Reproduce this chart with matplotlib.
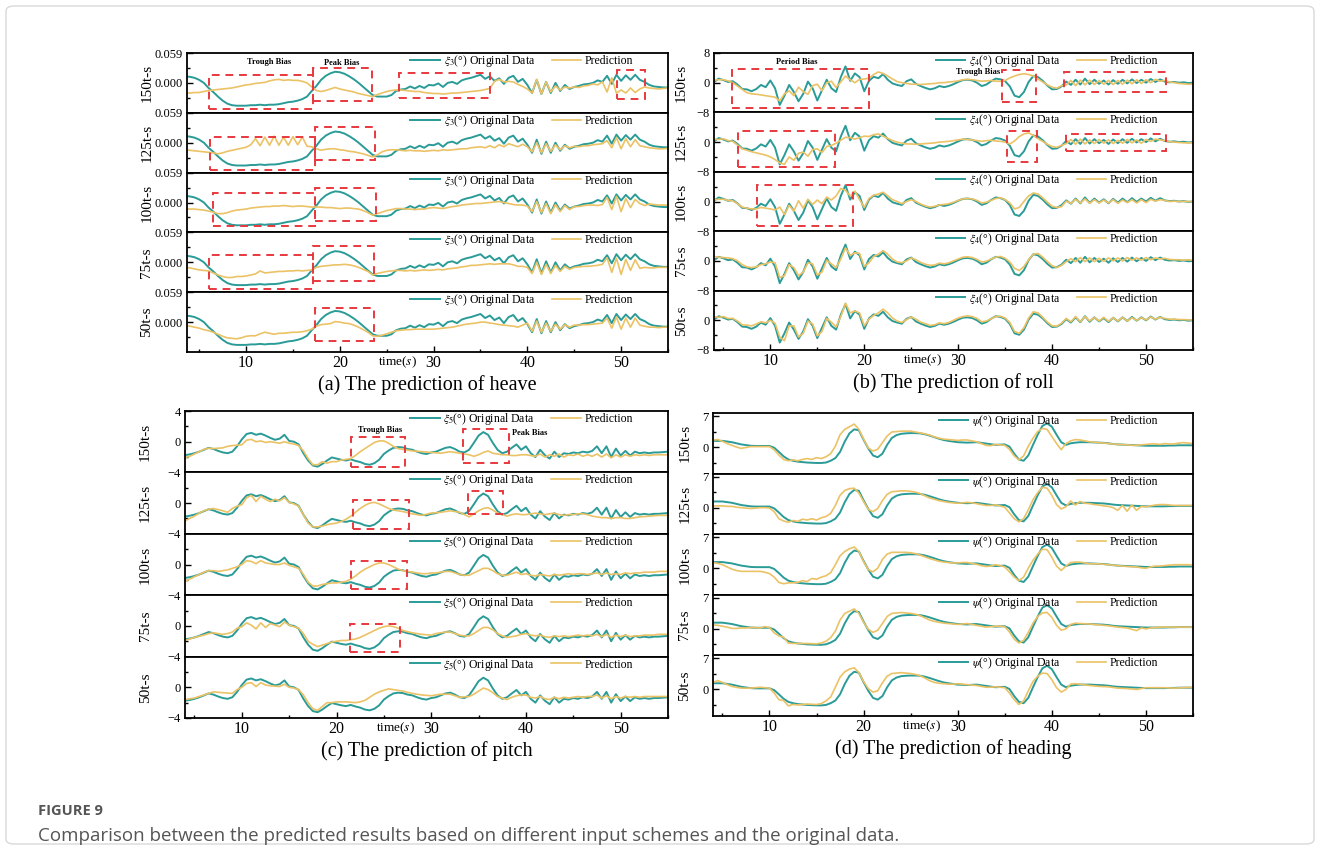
import numpy as np
import matplotlib.pyplot as plt
from matplotlib.patches import Rectangle, FancyBboxPatch
from matplotlib.ticker import FixedLocator

plt.rcParams['font.family'] = ['Liberation Serif', 'DejaVu Serif']
plt.rcParams['mathtext.fontset'] = 'stix'

#%% data (0.5 s steps from 3.5 s to 55 s)
t = np.arange(3.5, 55.01, 0.5)
rows = ['150t-s', '125t-s', '100t-s', '75t-s', '50t-s']

heave_orig = [0.013, 0.012, 0.010, 0.006, 0.000, -0.010, -0.018, -0.027, -0.035, -0.041,
              -0.044, -0.045, -0.045, -0.045, -0.044, -0.044, -0.043, -0.044, -0.043, -0.043,
              -0.042, -0.040, -0.038, -0.037, -0.035, -0.032, -0.027, -0.016, -0.006, 0.006,
              0.014, 0.019, 0.022, 0.021, 0.018, 0.013, 0.007, 0.000, -0.008, -0.016,
              -0.024, -0.027, -0.027, -0.027, -0.024, -0.016, -0.013, -0.012, -0.007, -0.011,
              -0.006, -0.010, -0.004, -0.005, -0.001, -0.008, 0.000, 0.002, -0.002, 0.005,
              0.008, 0.010, 0.013, 0.016, 0.008, 0.013, 0.004, 0.009, -0.002, 0.010,
              0.014, 0.002, 0.008, -0.004, -0.020, 0.006, -0.022, 0.002, -0.020, 0.000,
              -0.016, -0.004, -0.012, -0.008, -0.006, -0.003, -0.002, 0.000, 0.005, 0.002,
              0.014, -0.002, 0.016, 0.004, 0.015, 0.006, 0.016, 0.006, 0.002, -0.004,
              -0.007, -0.008, -0.009, -0.009]
heave_150 = [-0.020, -0.020, -0.019, -0.019, -0.017, -0.015, -0.014, -0.013, -0.012, -0.011,
             -0.010, -0.008, -0.006, -0.004, -0.003, -0.001, 0.000, 0.001, 0.004, 0.006,
             0.007, 0.005, 0.006, 0.005, 0.005, 0.003, 0.000, -0.008, -0.015, -0.017,
             -0.015, -0.012, -0.009, -0.012, -0.014, -0.016, -0.018, -0.021, -0.023, -0.025,
             -0.027, -0.023, -0.020, -0.017, -0.015, -0.014, -0.014, -0.015, -0.016, -0.017,
             -0.017, -0.019, -0.020, -0.021, -0.021, -0.022, -0.021, -0.020, -0.020, -0.019,
             -0.018, -0.017, -0.016, -0.015, -0.013, -0.011, 0.003, 0.007, 0.002, 0.003,
             0.002, -0.003, -0.007, -0.012, -0.020, 0.007, -0.022, 0.002, -0.018, -0.006,
             -0.014, -0.008, -0.010, -0.008, -0.009, -0.006, -0.005, -0.002, -0.004, 0.002,
             -0.018, 0.010, -0.020, -0.014, -0.020, -0.010, -0.019, -0.012, -0.008, -0.010,
             -0.011, -0.012, -0.011, -0.010]
heave_125 = [-0.014, -0.015, -0.016, -0.017, -0.018, -0.019, -0.020, -0.022, -0.020, -0.017,
             -0.015, -0.013, -0.011, -0.009, -0.004, 0.008, -0.006, 0.011, -0.005, 0.013,
             -0.005, 0.011, -0.005, 0.012, -0.004, 0.011, -0.007, -0.008, -0.012, -0.015,
             -0.013, -0.012, -0.012, -0.014, -0.015, -0.017, -0.018, -0.020, -0.022, -0.025,
             -0.028, -0.024, -0.018, -0.015, -0.014, -0.014, -0.015, -0.016, -0.015, -0.016,
             -0.016, -0.017, -0.016, -0.015, -0.016, -0.014, -0.015, -0.014, -0.013, -0.012,
             -0.012, -0.010, -0.009, -0.008, -0.010, -0.006, -0.010, -0.004, -0.008, -0.002,
             -0.005, -0.008, -0.003, -0.008, -0.018, 0.000, -0.020, -0.002, -0.017, -0.004,
             -0.014, -0.006, -0.010, -0.007, -0.008, -0.006, -0.006, -0.004, -0.003, -0.002,
             0.004, -0.010, 0.010, -0.012, 0.008, -0.008, 0.006, -0.006, -0.008, -0.010,
             -0.011, -0.012, -0.012, -0.011]
heave_100 = [-0.012, -0.013, -0.013, -0.014, -0.015, -0.017, -0.019, -0.022, -0.022, -0.020,
             -0.017, -0.015, -0.014, -0.013, -0.011, -0.010, -0.009, -0.008, -0.008, -0.007,
             -0.007, -0.006, -0.007, -0.008, -0.007, -0.007, -0.008, -0.009, -0.009, -0.009,
             -0.010, -0.010, -0.011, -0.012, -0.011, -0.011, -0.012, -0.013, -0.016, -0.020,
             -0.025, -0.022, -0.019, -0.016, -0.014, -0.012, -0.012, -0.013, -0.013, -0.014,
             -0.013, -0.013, -0.011, -0.010, -0.011, -0.012, -0.010, -0.008, -0.007, -0.005,
             -0.004, -0.003, -0.002, -0.002, -0.001, 0.000, 0.001, 0.002, 0.000, -0.002,
             -0.004, -0.005, -0.005, -0.007, -0.018, 0.002, -0.020, -0.002, -0.022, -0.004,
             -0.018, -0.006, -0.014, -0.008, -0.008, -0.006, -0.005, -0.005, -0.006, -0.004,
             0.010, -0.014, 0.012, -0.018, 0.008, -0.010, 0.006, -0.002, -0.006, -0.003,
             -0.004, -0.005, -0.005, -0.005]
heave_75 = [-0.010, -0.011, -0.013, -0.015, -0.016, -0.017, -0.021, -0.025, -0.028, -0.030,
            -0.030, -0.028, -0.028, -0.027, -0.025, -0.023, -0.017, -0.021, -0.020, -0.019,
            -0.018, -0.018, -0.017, -0.017, -0.016, -0.017, -0.016, -0.015, -0.010, -0.008,
            -0.007, -0.006, -0.005, -0.005, -0.004, -0.005, -0.007, -0.010, -0.014, -0.018,
            -0.025, -0.022, -0.020, -0.018, -0.017, -0.016, -0.016, -0.017, -0.016, -0.017,
            -0.016, -0.015, -0.016, -0.015, -0.014, -0.015, -0.013, -0.012, -0.011, -0.009,
            -0.008, -0.006, -0.006, -0.005, -0.004, -0.003, -0.004, -0.003, -0.003, -0.003,
            -0.005, -0.008, -0.008, -0.010, -0.022, 0.000, -0.024, -0.004, -0.022, -0.006,
            -0.018, -0.008, -0.014, -0.010, -0.009, -0.008, -0.008, -0.007, -0.006, -0.004,
            0.009, -0.020, 0.008, -0.024, 0.006, -0.016, 0.005, -0.012, -0.010, -0.011,
            -0.011, -0.010, -0.010, -0.010]
heave_50 = [-0.007, -0.008, -0.010, -0.012, -0.015, -0.017, -0.020, -0.024, -0.028, -0.031,
            -0.032, -0.033, -0.031, -0.028, -0.027, -0.027, -0.023, -0.020, -0.022, -0.024,
            -0.022, -0.022, -0.021, -0.020, -0.020, -0.019, -0.017, -0.014, -0.008, -0.005,
            -0.004, -0.003, 0.001, 0.000, -0.002, -0.003, -0.006, -0.010, -0.015, -0.020,
            -0.027, -0.028, -0.026, -0.023, -0.020, -0.017, -0.016, -0.015, -0.015, -0.014,
            -0.014, -0.014, -0.014, -0.014, -0.013, -0.012, -0.011, -0.010, -0.008, -0.006,
            -0.004, -0.003, -0.002, 0.000, 0.000, -0.002, -0.003, -0.005, -0.006, -0.007,
            -0.008, -0.010, -0.006, -0.002, -0.018, 0.002, -0.020, -0.002, -0.018, -0.004,
            -0.014, -0.005, -0.010, -0.006, -0.006, -0.005, -0.005, -0.004, -0.003, -0.002,
            0.008, -0.012, 0.010, -0.014, 0.008, -0.010, 0.008, -0.006, -0.008, -0.010,
            -0.010, -0.011, -0.010, -0.010]

roll_orig = [0.3, 0.2, 1.1, 0.7, 0.2, 0.4, -0.5, -1.7, -1.8, -2.3,
             -1.7, -0.6, -1.2, 0.6, -1.5, -6.0, -3.5, -0.6, -2.5, -5.0,
             -3.0, 0.3, -1.5, -4.8, -2.0, 0.8, -1.5, -2.5, 1.5, 4.4,
             0.5, 2.5, 1.5, -2.3, 0.5, 1.6, 1.2, 2.3, 0.8, -0.2,
             -0.6, -0.9, 0.4, 0.9, -0.3, -0.9, -1.4, -1.8, -1.5, -0.9,
             -1.2, -0.9, -0.4, 0.2, 0.7, 0.8, 0.6, 0.0, -0.9, -0.5,
             0.4, 1.1, 0.9, 0.4, -1.0, -3.5, -3.9, -2.5, 0.2, 1.8,
             1.5, 0.5, -0.8, -1.8, -1.7, -1.0, 0.3, -0.6, 0.8, -0.5,
             1.1, -0.4, 0.8, -0.3, 0.6, -0.5, 0.7, -0.3, 0.8, -0.2,
             0.9, -0.1, 0.8, 0.0, 1.0, 0.2, 0.9, 0.3, 0.1, 0.2,
             0.0, 0.1, -0.1, 0.0]
roll_150 = [0.6, 0.7, 0.8, 0.8, 0.5, 0.0, -0.9, -1.8, -2.7, -3.0,
            -3.1, -3.3, -3.5, -3.7, -3.9, -4.9, -3.0, -2.2, -3.5, -1.2,
            -2.4, -3.1, -0.8, -0.4, -2.2, 0.0, 0.4, -1.3, 0.2, 1.8,
            0.8, 0.0, 0.9, 1.0, 1.2, 2.2, 2.9, 2.5, 1.8, 1.0,
            0.3, 0.0, -0.2, -0.4, -0.4, -0.5, -0.4, -0.3, -0.2, 0.0,
            0.0, 0.2, 0.3, 0.5, 0.8, 0.9, 0.8, 0.6, 0.4, 0.5,
            0.6, 0.4, 0.4, 0.6, 1.3, 1.8, 2.2, 2.4, 2.2, 1.8,
            1.0, 0.2, -0.6, -1.2, -1.5, -0.8, -0.6, 0.6, -0.8, 0.7,
            -0.6, 0.7, -0.5, 0.6, -0.4, 0.6, -0.5, 0.6, -0.4, 0.7,
            -0.3, 0.8, -0.2, 0.8, 0.0, 0.9, 0.4, 0.6, 0.2, 0.0,
            -0.2, -0.3, -0.4, -0.4]
roll_125 = [0.7, 0.8, 0.7, 0.9, 0.4, 0.2, -0.8, -1.8, -2.2, -2.6,
            -2.9, -3.2, -3.5, -4.0, -4.7, -5.6, -6.0, -4.0, -4.9, -3.0,
            -2.7, -3.8, -2.0, -1.8, -2.8, -1.2, -0.9, -0.3, 0.5, 1.3,
            1.2, 0.8, 1.2, 1.6, 1.5, 2.0, 2.2, 1.6, 1.0, 0.4,
            0.0, -0.3, -0.5, -0.5, -0.6, -0.5, -0.4, -0.3, -0.2, 0.0,
            0.1, 0.2, 0.4, 0.6, 0.8, 0.7, 0.6, 0.4, 0.2, 0.4,
            0.5, 0.3, 0.2, 0.0, -0.5, 0.3, 1.5, 2.2, 2.5, 1.8,
            0.9, 0.2, -0.6, -1.2, -1.4, -0.9, -0.4, 0.7, -0.6, 0.8,
            -0.5, 0.6, -0.4, 0.7, -0.3, 0.6, -0.4, 0.5, -0.3, 0.7,
            -0.2, 0.6, -0.3, 0.7, 0.2, 0.8, 0.6, 0.4, 0.1, 0.0,
            -0.1, -0.2, -0.2, -0.2]
roll_100 = [0.5, 0.4, 0.6, 0.6, 0.3, 0.2, -0.6, -1.5, -1.8, -2.0,
            -2.0, -1.6, -1.8, -2.0, -2.3, -1.5, -3.5, -1.0, -2.6, 0.2,
            -1.8, 0.6, -0.8, 0.4, -0.6, 1.2, 0.4, 1.5, 3.5, 3.0,
            1.5, 2.8, 0.5, -1.6, 0.8, 1.7, 2.0, 2.5, 1.5, 0.5,
            0.0, -0.6, 0.0, 0.5, 0.0, -0.7, -1.2, -1.5, -1.3, -0.9,
            -0.8, -0.6, -0.2, 0.3, 0.7, 0.8, 0.7, 0.3, -0.4, -0.2,
            0.3, 0.8, 1.0, 0.5, -0.4, -2.0, -1.6, 0.0, 1.5, 2.3,
            2.0, 1.0, -0.2, -1.3, -1.6, -1.4, 0.1, -0.5, 0.6, -0.4,
            0.7, -0.5, 0.5, -0.4, 0.4, -0.4, 0.5, -0.5, 0.4, -0.3,
            0.5, -0.4, 0.5, -0.3, 0.6, 0.1, 0.5, 0.3, 0.0, 0.1,
            0.0, 0.0, 0.0, 0.0]
roll_75 = [1.0, 1.2, 1.0, 0.9, 0.8, 0.6, 0.0, -1.0, -1.6, -1.8,
           -1.6, -1.0, -0.8, -0.3, -0.5, -4.5, -4.0, -1.0, -1.8, -4.0,
           -3.0, -0.5, -0.8, -3.8, -3.0, 0.2, -0.8, -1.8, 0.5, 3.5,
           1.5, 2.2, 2.0, -1.5, -0.5, 1.2, 1.8, 2.8, 1.8, 0.5,
           -0.3, -0.5, 0.0, 0.8, 0.3, -0.4, -0.9, -1.2, -1.1, -0.6,
           -0.8, -0.5, 0.0, 0.5, 1.0, 1.1, 0.9, 0.4, -0.3, -0.1,
           0.5, 1.0, 1.2, 0.7, -0.3, -2.0, -2.6, -1.5, 0.3, 1.8,
           2.0, 1.0, -0.2, -1.3, -1.8, -1.2, -0.2, 0.6, -0.2, 0.9,
           -0.2, 0.8, -0.2, 0.7, -0.1, 0.8, 0.0, 0.8, 0.0, 0.9,
           0.2, 0.8, 0.2, 0.9, 0.3, 0.8, 0.5, 0.7, 0.4, 0.3,
           0.3, 0.2, 0.3, 0.2]
roll_50 = [0.8, 1.0, 0.8, 1.0, 0.5, 0.5, -0.2, -1.2, -1.3, -1.5,
           -1.0, -0.4, -0.7, 0.0, -0.8, -4.5, -5.5, -1.5, -1.5, -4.5,
           -3.5, -0.2, -1.0, -4.2, -3.0, 0.5, -0.5, -1.8, 1.0, 4.6,
           2.0, 2.5, 2.0, -1.5, 0.3, 1.3, 2.0, 3.0, 2.0, 0.6,
           -0.2, -0.6, 0.2, 0.9, 0.3, -0.5, -0.9, -1.4, -1.2, -0.7,
           -0.9, -0.6, 0.0, 0.6, 1.0, 1.2, 1.0, 0.5, -0.4, -0.2,
           0.4, 1.0, 1.1, 0.6, -0.6, -3.0, -3.5, -2.0, 0.6, 2.3,
           2.0, 0.8, -0.5, -1.5, -1.6, -0.8, 0.5, -0.4, 1.0, -0.4,
           1.0, -0.2, 0.8, -0.2, 0.8, -0.3, 0.7, -0.2, 0.8, -0.2,
           0.7, 0.0, 0.7, 0.1, 0.9, 0.3, 0.8, 0.5, 0.3, 0.3,
           0.2, 0.2, 0.1, 0.1]

pitch_orig = [-1.9, -1.75, -1.65, -1.5, -1.3, -1.05, -0.8, -0.95, -1.2, -1.4,
              -1.5, -1.3, -0.6, 0.3, 1.0, 1.15, 0.9, 1.05, 0.8, 0.5,
              0.25, 0.4, 0.9, 0.1, 0.0, -0.35, -1.5, -2.45, -3.1, -3.25,
              -2.9, -2.45, -2.05, -2.2, -2.35, -2.45, -2.3, -2.5, -2.65, -2.9,
              -3.0, -2.8, -2.35, -1.6, -1.15, -0.8, -0.7, -0.75, -0.95, -1.05,
              -1.3, -1.5, -1.6, -1.4, -1.3, -1.05, -0.8, -0.7, -0.95, -1.3,
              -1.4, -1.05, -0.15, 0.8, 1.25, 0.9, -0.15, -1.05, -1.5, -1.3,
              -0.8, -0.35, -1.05, -0.6, -1.5, -2.0, -1.05, -1.75, -2.2, -1.3,
              -2.0, -1.5, -1.6, -1.4, -1.5, -1.3, -1.4, -1.2, -0.6, -1.5,
              -0.6, -2.0, -0.9, -1.8, -1.2, -1.8, -1.3, -1.5, -1.4, -1.5,
              -1.4, -1.4, -1.35, -1.3]
pitch_150 = [-2.2, -2.1, -1.9, -1.6, -1.3, -1.0, -0.85, -0.9, -0.85, -0.8,
             -0.6, -0.5, -0.45, -0.4, 0.2, 0.3, 0.0, 0.1, -0.1, 0.0,
             -0.1, -0.2, 0.0, -0.2, -0.3, -0.5, -1.2, -2.2, -3.0, -3.0,
             -2.6, -2.8, -2.6, -2.6, -2.4, -2.3, -2.2, -1.8, -1.3, -0.9,
             -0.5, -0.1, 0.1, 0.1, -0.2, -0.6, -0.9, -1.0, -1.1, -1.2,
             -1.25, -1.3, -1.35, -1.4, -1.45, -1.5, -1.4, -1.3, -1.4, -1.5,
             -1.6, -1.7, -1.9, -1.7, -1.4, -1.2, -1.5, -1.6, -1.7, -1.7,
             -1.8, -1.8, -1.7, -1.7, -1.8, -1.9, -1.6, -2.0, -1.7, -1.9,
             -1.6, -2.0, -1.7, -1.8, -1.6, -1.9, -1.7, -1.9, -1.6, -2.0,
             -1.6, -2.1, -1.7, -2.0, -1.7, -1.9, -1.7, -1.8, -1.7, -1.8,
             -1.7, -1.7, -1.7, -1.7]
pitch_125 = [-2.4, -2.3, -2.0, -1.7, -1.3, -1.0, -0.8, -0.7, -0.85, -1.0,
             -1.2, -0.7, -0.4, -0.2, 0.7, 1.0, 0.2, 0.9, 0.5, 0.2,
             0.5, 0.3, 0.7, 0.1, -0.1, -0.4, -1.5, -2.6, -3.1, -3.1,
             -3.0, -2.8, -2.7, -2.6, -2.4, -2.1, -1.7, -1.2, -0.7, -0.3,
             0.0, 0.1, -0.1, -0.4, -0.7, -0.9, -1.0, -1.1, -1.25, -1.4,
             -1.5, -1.6, -1.45, -1.3, -1.25, -1.2, -1.1, -1.0, -1.1, -1.2,
             -1.5, -1.8, -1.4, -1.0, -0.7, -0.6, -0.9, -1.3, -1.5, -1.7,
             -1.5, -1.4, -1.5, -1.5, -1.4, -1.3, -1.4, -1.5, -1.4, -1.3,
             -1.5, -1.6, -1.5, -1.5, -1.4, -1.4, -1.5, -1.7, -1.8, -1.9,
             -1.9, -2.0, -1.9, -1.9, -2.0, -2.0, -1.9, -1.8, -1.75, -1.7,
             -1.65, -1.6, -1.6, -1.6]
pitch_100 = [-2.3, -2.2, -1.9, -1.6, -1.3, -1.0, -0.8, -0.8, -0.9, -0.8,
             -0.7, -0.5, -0.3, 0.0, 0.5, 0.4, 0.1, 0.5, 0.2, 0.1,
             0.0, 0.0, 0.2, -0.1, -0.3, -0.5, -1.3, -2.3, -2.8, -2.8,
             -2.6, -2.5, -2.4, -2.4, -2.3, -2.2, -1.9, -1.5, -1.0, -0.6,
             -0.3, 0.0, 0.2, 0.2, 0.0, -0.3, -0.6, -0.8, -0.9, -1.0,
             -1.1, -1.2, -1.2, -1.1, -1.1, -1.0, -0.9, -0.9, -1.1, -1.3,
             -1.4, -1.4, -1.1, -0.8, -0.5, -0.5, -0.8, -1.2, -1.4, -1.4,
             -1.2, -1.0, -1.3, -1.2, -1.4, -1.5, -1.3, -1.4, -1.5, -1.3,
             -1.4, -1.3, -1.2, -1.3, -1.2, -1.2, -1.3, -1.2, -1.1, -1.3,
             -1.1, -1.3, -1.2, -1.3, -1.1, -1.2, -1.1, -1.1, -1.0, -1.0,
             -1.0, -0.9, -0.9, -0.9]
pitch_75 = [-2.0, -1.9, -1.7, -1.5, -1.35, -1.2, -1.0, -0.9, -1.0, -1.1,
            -1.0, -0.8, -0.3, -0.1, 0.4, 0.1, -0.4, 0.4, -0.2, 0.3,
            0.1, -0.1, 0.5, 0.1, -0.1, -0.3, -1.0, -2.0, -2.4, -2.7,
            -2.5, -2.3, -2.1, -2.0, -1.9, -1.9, -1.8, -1.7, -1.5, -1.2,
            -0.9, -0.6, -0.3, -0.1, 0.0, -0.1, -0.3, -0.6, -0.75, -0.9,
            -1.0, -1.1, -1.15, -1.2, -1.0, -0.9, -0.8, -0.8, -1.0, -1.2,
            -1.3, -1.3, -1.0, -0.6, -0.2, -0.2, -0.5, -1.0, -1.3, -1.5,
            -1.4, -1.3, -1.1, -1.0, -1.2, -1.3, -1.2, -1.4, -1.5, -1.3,
            -1.4, -1.3, -1.4, -1.3, -1.2, -1.3, -1.2, -1.3, -1.1, -1.4,
            -1.1, -1.5, -1.2, -1.4, -1.2, -1.4, -1.3, -1.3, -1.2, -1.2,
            -1.2, -1.1, -1.1, -1.1]
pitch_50 = [-1.7, -1.6, -1.5, -1.4, -1.2, -1.0, -0.8, -0.6, -0.65, -0.7,
            -0.75, -0.8, -0.3, 0.0, 0.5, 0.6, 0.1, 0.6, 0.3, 0.2,
            0.15, 0.1, 0.4, 0.0, -0.1, -0.3, -1.0, -2.0, -2.8, -3.0,
            -2.5, -2.0, -2.0, -1.9, -1.9, -1.9, -1.95, -2.0, -1.9, -1.7,
            -1.3, -0.9, -0.6, -0.4, -0.2, -0.3, -0.4, -0.5, -0.65, -0.8,
            -0.9, -1.0, -1.05, -1.1, -1.0, -0.9, -0.9, -0.9, -1.1, -1.3,
            -1.25, -1.2, -0.9, -0.5, -0.1, -0.3, -0.7, -1.2, -1.4, -1.6,
            -1.3, -1.1, -1.0, -1.0, -1.3, -1.4, -1.2, -1.5, -1.6, -1.3,
            -1.5, -1.3, -1.4, -1.3, -1.2, -1.3, -1.2, -1.2, -1.0, -1.4,
            -1.1, -1.5, -1.2, -1.4, -1.2, -1.3, -1.2, -1.3, -1.2, -1.2,
            -1.2, -1.2, -1.2, -1.2]

heading_orig = [1.4, 1.4, 1.4, 1.4, 1.25, 1.1, 0.85, 0.6, 0.45, 0.3,
                0.25, 0.25, 0.25, 0.25, -0.15, -1.1, -2.1, -2.8, -3.1, -3.3,
                -3.4, -3.5, -3.55, -3.6, -3.6, -3.5, -3.1, -2.5, -1.1, 1.25,
                3.1, 4.0, 3.8, 1.65, -0.3, -1.9, -2.3, -1.5, 0.5, 2.05,
                2.7, 3.0, 3.1, 3.15, 3.15, 3.1, 2.9, 2.6, 2.25, 1.9,
                1.6, 1.4, 1.25, 1.1, 1.05, 1.0, 1.05, 1.1, 0.95, 0.8,
                0.65, 0.5, 0.55, 0.6, 0.1, -1.5, -2.8, -3.1, -1.9, 0.5,
                2.8, 4.8, 5.35, 4.6, 2.8, 1.1, 0.5, 0.85, 1.0, 1.1,
                1.1, 1.1, 1.05, 1.0, 0.95, 0.85, 0.7, 0.6, 0.55, 0.5,
                0.45, 0.4, 0.35, 0.3, 0.3, 0.3, 0.3, 0.3, 0.35, 0.35,
                0.4, 0.4, 0.4, 0.4]
heading_150 = [1.5, 1.6, 1.7, 1.3, 0.8, 0.4, 0.0, -0.3, -0.1, 0.1,
               0.1, 0.1, 0.1, 0.1, -0.6, -1.8, -2.8, -3.1, -2.9, -3.1,
               -2.8, -2.6, -2.8, -2.4, -2.6, -2.2, -1.5, 0.2, 2.8, 4.0,
               4.6, 5.2, 4.0, 1.8, -0.2, -0.9, -0.5, 1.0, 2.5, 3.4,
               3.5, 3.6, 3.6, 3.6, 3.4, 3.2, 3.0, 2.7, 2.3, 2.0,
               1.8, 1.7, 1.6, 1.5, 1.6, 1.6, 1.4, 1.2, 0.8, 0.4,
               0.3, 0.6, 0.5, 0.4, -0.5, -2.0, -2.9, -2.0, 0.2, 2.0,
               3.5, 4.2, 4.0, 2.4, 0.8, -0.6, 0.8, 1.4, 1.7, 1.6,
               1.4, 1.2, 1.1, 1.0, 0.9, 0.8, 0.7, 0.6, 0.55, 0.5,
               0.4, 0.4, 0.5, 0.6, 0.7, 0.7, 0.6, 0.8, 0.7, 0.7,
               0.9, 1.0, 0.9, 0.8]
heading_125 = [0.4, 0.4, 0.4, 0.4, 0.3, 0.3, 0.1, 0.0, -0.1, -0.2,
               -0.1, 0.0, 0.0, -0.1, -0.9, -2.5, -3.0, -3.3, -2.9, -3.1,
               -2.6, -2.8, -2.5, -2.8, -2.3, -2.0, -1.3, 0.5, 2.8, 3.9,
               4.3, 4.4, 3.3, 1.4, -0.4, -0.9, -0.2, 1.6, 3.0, 3.6,
               3.7, 3.8, 3.8, 3.7, 3.5, 3.2, 2.7, 2.2, 1.9, 1.6,
               1.4, 1.2, 1.1, 1.0, 1.1, 1.2, 1.1, 0.9, 0.7, 0.5,
               0.5, 0.6, 0.4, 0.1, -1.2, -2.5, -3.2, -2.5, -0.5, 1.8,
               3.4, 4.6, 4.4, 2.8, 0.7, -0.3, 0.2, 1.5, 0.6, 1.4,
               1.0, 0.9, 0.7, 0.6, 0.4, 0.3, 0.0, -0.6, 0.5, -0.8,
               0.6, -0.6, 0.3, 0.2, 0.4, 0.6, 0.7, 0.7, 0.6, 0.5,
               0.5, 0.5, 0.5, 0.5]
heading_100 = [1.4, 1.3, 1.1, 0.8, 0.3, -0.2, -0.5, -0.7, -0.7, -0.7,
               -0.7, -0.7, -0.9, -1.2, -2.0, -3.2, -3.5, -3.3, -3.3, -3.2,
               -2.8, -3.0, -2.3, -2.5, -2.0, -1.7, -1.0, 0.8, 2.8, 3.8,
               4.4, 4.8, 3.8, 1.5, -0.3, -0.8, 0.0, 2.0, 3.2, 3.6,
               3.6, 3.6, 3.6, 3.5, 3.3, 3.0, 2.6, 2.2, 1.9, 1.6,
               1.4, 1.3, 1.2, 1.2, 1.3, 1.3, 1.1, 0.9, 0.6, 0.4,
               0.5, 0.8, 0.6, 0.3, -0.8, -2.0, -2.8, -2.0, 0.0, 1.8,
               3.2, 4.3, 4.2, 2.5, 0.5, -0.5, 0.5, 1.3, 1.4, 1.4,
               1.2, 1.0, 1.0, 1.0, 0.9, 0.8, 0.7, 0.6, 0.5, 0.4,
               0.35, 0.3, 0.1, 0.0, 0.3, 0.5, 0.5, 0.6, 0.7, 0.8,
               0.8, 0.8, 0.8, 0.7]
heading_75 = [0.9, 0.9, 0.8, 0.6, 0.4, 0.1, 0.1, 0.2, 0.2, 0.3,
              0.3, 0.2, 0.5, 0.3, -0.9, -1.6, -1.9, -3.2, -3.3, -3.3,
              -3.3, -3.3, -3.35, -3.4, -3.2, -2.8, -2.0, -0.5, 2.0, 3.5,
              4.0, 4.5, 3.5, 1.5, -0.1, -0.8, -0.3, 1.2, 2.8, 3.5,
              3.6, 3.7, 3.6, 3.5, 3.3, 3.0, 2.5, 2.0, 1.7, 1.5,
              1.3, 1.2, 1.1, 1.0, 1.1, 1.2, 1.0, 0.8, 0.6, 0.4,
              0.5, 0.6, 0.6, 0.5, -0.7, -2.3, -3.2, -2.6, -0.8, 1.3,
              2.8, 3.6, 3.7, 2.6, 0.8, -0.3, 0.0, 1.0, 1.3, 1.2,
              1.15, 1.1, 1.0, 0.9, 0.8, 0.7, 0.55, 0.4, 0.3, 0.2,
              -0.1, -0.4, 0.2, 0.0, 0.2, 0.3, 0.4, 0.4, 0.4, 0.4,
              0.4, 0.4, 0.4, 0.4]
heading_50 = [1.4, 1.6, 2.0, 1.6, 1.1, 0.7, 0.5, 0.3, 0.3, 0.3,
              0.4, 0.5, 0.4, 0.3, -0.8, -2.3, -2.5, -3.7, -3.4, -3.5,
              -3.4, -3.3, -3.35, -3.4, -3.2, -2.6, -1.7, 0.5, 2.8, 4.0,
              4.6, 4.9, 3.8, 1.8, 0.2, -0.6, -0.3, 1.5, 3.0, 3.6,
              3.7, 3.8, 3.7, 3.6, 3.4, 3.1, 2.6, 2.0, 1.6, 1.4,
              1.3, 1.2, 1.2, 1.3, 1.2, 1.1, 1.0, 0.9, 0.7, 0.5,
              0.5, 0.6, 0.5, 0.4, -0.8, -2.3, -3.4, -2.6, -0.3, 1.8,
              3.0, 3.7, 3.6, 2.2, 0.4, -0.6, 0.0, 1.2, 1.3, 1.2,
              1.05, 0.9, 0.8, 0.7, 0.65, 0.6, 0.45, 0.3, 0.25, 0.2,
              0.1, 0.0, 0.2, 0.4, 0.4, 0.4, 0.4, 0.4, 0.35, 0.3,
              0.35, 0.4, 0.45, 0.5]

# dashed "bias" boxes: (row, t start, t end, y low, y high)
heave_boxes = [(0, 6.0, 17.1, -0.051, 0.015), (0, 17.1, 23.45, -0.035, 0.030),
               (0, 26.3, 36.0, -0.030, 0.020), (0, 49.6, 52.5, -0.032, 0.026),
               (1, 6.2, 17.3, -0.054, 0.012), (1, 17.3, 23.7, -0.035, 0.030),
               (2, 6.5, 17.35, -0.046, 0.019), (2, 17.4, 23.85, -0.036, 0.029),
               (3, 6.05, 17.1, -0.053, 0.0145), (3, 17.1, 23.6, -0.037, 0.032),
               (4, 17.3, 23.6, -0.038, 0.027)]
roll_boxes = [(0, 5.9, 20.5, -6.9, 3.8), (0, 34.7, 38.3, -5.3, 3.3), (0, 41.3, 52.1, -2.4, 2.9),
              (1, 6.6, 16.9, -6.7, 3.1), (1, 35.2, 38.35, -5.3, 3.1), (1, 41.5, 52.1, -2.5, 2.2),
              (2, 8.6, 18.8, -6.6, 4.4)]
pitch_boxes = [(0, 21.5, 27.2, -3.26, 0.55), (0, 33.4, 38.2, -2.8, 1.6),
               (1, 21.7, 27.7, -3.35, 0.4), (1, 33.9, 37.6, -1.45, 1.6),
               (2, 21.5, 27.4, -3.2, 0.5), (3, 21.4, 26.75, -3.45, 0.3)]
heading_boxes = []

# notes: (t, y, text, ha)
heave_notes = [(12.4, 0.042, 'Trough Bias', 'center'), (20.2, 0.040, 'Peak Bias', 'center')]
roll_notes = [(12.8, 5.6, 'Period Bias', 'center'), (34.5, 3.0, 'Trough Bias', 'right')]
pitch_notes = [(24.6, 1.5, 'Trough Bias', 'center'), (38.5, 1.1, 'Peak Bias', 'left')]
heading_notes = []

#%% style
TEAL = '#2a9b97'
YELLOW = '#ebc265'
RED = '#e8383d'
W, H = 1320, 850

def frac(left, top, right, bottom):
    return [left / W, 1 - bottom / H, (right - left) / W, (bottom - top) / H]

panels = [
    dict(box=(187, 53, 668, 352), xlim=(3.7, 55), ylim=(-0.059, 0.059), orig=heave_orig,
         preds=[heave_150, heave_125, heave_100, heave_75, heave_50], sym=r'$\xi_3$',
         ticks=[0, 0.059], labels=['0.000', '0.059'], top=None, minor=[-0.0295, 0.0295],
         boxes=heave_boxes, notes=heave_notes, title='(a) The prediction of heave', ylx=-0.07),
    dict(box=(714, 53, 1193, 350), xlim=(4, 55), ylim=(-8, 8), orig=roll_orig,
         preds=[roll_150, roll_125, roll_100, roll_75, roll_50], sym=r'$\xi_4$',
         ticks=[-8, 0], labels=['\u22128', '0'], top=(8, '8'), minor=[-4, 4],
         boxes=roll_boxes, notes=roll_notes, title='(b) The prediction of roll', ylx=-0.055),
    dict(box=(185, 411, 668, 718), xlim=(4, 55), ylim=(-4, 4), orig=pitch_orig,
         preds=[pitch_150, pitch_125, pitch_100, pitch_75, pitch_50], sym=r'$\xi_5$',
         ticks=[-4, 0], labels=['\u22124', '0'], top=(4, '4'), minor=[-2, 2],
         boxes=pitch_boxes, notes=pitch_notes, title='(c) The prediction of pitch', ylx=-0.068),
    dict(box=(713, 413, 1193, 716), xlim=(4, 55), ylim=(-6, 7.7), orig=heading_orig,
         preds=[heading_150, heading_125, heading_100, heading_75, heading_50], sym=r'$\psi$',
         ticks=[0, 7], labels=['0', '7'], top=None, minor=[-3.5, 3.5],
         boxes=heading_boxes, notes=heading_notes, title='(d) The prediction of heading', ylx=-0.045),
]

fig = plt.figure(figsize=(13.2, 8.5), dpi=100)

for p in panels:
    left, top, right, bottom = p['box']
    rh = (bottom - top) / 5
    for i in range(5):
        ax = fig.add_axes(frac(left, top + i * rh, right, top + (i + 1) * rh))
        l1, = ax.plot(t, p['orig'], color=TEAL, lw=1.4)
        l2, = ax.plot(t, p['preds'][i], color=YELLOW, lw=1.2)
        ax.set_xlim(p['xlim'])
        ax.set_ylim(p['ylim'])

        ticks, labels = list(p['ticks']), list(p['labels'])
        if i == 0 and p['top'] is not None:
            ticks.append(p['top'][0])
            labels.append(p['top'][1])
        ax.set_yticks(ticks)
        ax.set_yticklabels(labels)
        ax.yaxis.set_minor_locator(FixedLocator(p['minor']))
        ax.tick_params(axis='y', which='major', direction='in', length=4, width=1, labelsize=9, pad=3)
        ax.tick_params(axis='y', which='minor', direction='in', length=2.5, width=1)
        ax.set_ylabel(rows[i], fontsize=11)
        ax.yaxis.set_label_coords(p['ylx'], 0.5)

        ax.set_xticks([10, 20, 30, 40, 50])
        ax.xaxis.set_minor_locator(FixedLocator([5, 15, 25, 35, 45, 55]))
        if i < 4:
            ax.tick_params(axis='x', which='both', bottom=False, labelbottom=False)
        else:
            ax.tick_params(axis='x', which='major', direction='in', length=4, width=1, labelsize=11.5, pad=2)
            ax.tick_params(axis='x', which='minor', direction='in', length=2.5, width=1)
            ax.annotate('time($s$)', xy=(26.2, 0), xycoords=('data', 'axes fraction'),
                        xytext=(0, -2), textcoords='offset points', ha='center', va='top', fontsize=9.5)
        for s in ax.spines.values():
            s.set_linewidth(1.3)

        ax.legend([l1, l2], [p['sym'] + '(°) Original Data', 'Prediction'], loc='upper right',
                  bbox_to_anchor=(0.93, 1.02), ncol=2, frameon=False, fontsize=8.5,
                  handlelength=2.5, handletextpad=0.3, columnspacing=1.4,
                  borderaxespad=0, borderpad=0.1)

        for (r, t0, t1, y0, y1) in p['boxes']:
            if r == i:
                ax.add_patch(Rectangle((t0, y0), t1 - t0, y1 - y0, fill=False, ec=RED,
                                       lw=1.4, ls=(0, (4, 3)), zorder=5))
        if i == 0:
            for (tx, ty, txt, ha) in p['notes']:
                ax.text(tx, ty, txt, fontsize=6, fontweight='bold', ha=ha, va='center')

    fig.text((left + right) / 2 / W, 1 - (bottom + 33) / H, p['title'],
             ha='center', va='center', fontsize=14.5)

fig.text(38 / W, 1 - 811 / H, 'FIGURE 9', family=['Open Sans', 'DejaVu Sans'],
         fontweight='bold', fontsize=10.5, color='#555555', va='center')
fig.text(38 / W, 1 - 836 / H,
         'Comparison between the predicted results based on different input schemes and the original data.',
         family=['Open Sans', 'DejaVu Sans'], fontsize=13.5, color='#555555', va='center')

fig.patches.append(FancyBboxPatch((6 / W, 6 / H), 1 - 12 / W, 1 - 12 / H,
                                  boxstyle='round,pad=0,rounding_size=0.006',
                                  transform=fig.transFigure, fill=False, ec='#d9d9d9', lw=1))

fig.savefig('out.png', dpi=100)
